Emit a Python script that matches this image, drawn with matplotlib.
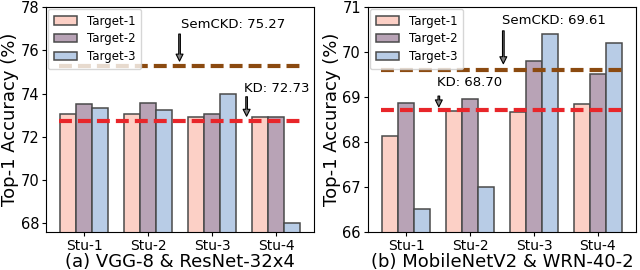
import matplotlib.pyplot as plt
import numpy as np

students = ['Stu-1', 'Stu-2', 'Stu-3', 'Stu-4']
targets = ['Target-1', 'Target-2', 'Target-3']

# (a) VGG-8 & ResNet-32x4
vgg_t1 = [73.05, 73.05, 72.91, 72.93]
vgg_t2 = [73.52, 73.55, 73.04, 72.93]
vgg_t3 = [73.32, 73.22, 73.97, 68.03]
vgg_kd = 72.73
vgg_sem = 75.27

# (b) MobileNetV2 & WRN-40-2
mob_t1 = [68.13, 68.68, 68.66, 68.84]
mob_t2 = [68.86, 68.96, 69.81, 69.50]
mob_t3 = [66.51, 66.99, 70.41, 70.19]
mob_kd = 68.70
mob_sem = 69.61

colors = ['#fcd0c6', '#b8a3b6', '#b8cce6']
w = 0.25

fig, axes = plt.subplots(1, 2, figsize=(6.4, 2.7), dpi=100)
plt.subplots_adjust(left=0.072, right=0.994, top=0.974, bottom=0.141, wspace=0.2)


def draw(ax, series, kd, sem, ylim, yticks, xlabel, sem_pos, kd_pos):
    x = np.arange(len(students))
    for i, vals in enumerate(series):
        ax.bar(x + (i - 1) * w, vals, w, color=colors[i], edgecolor='#4a4a4a',
               linewidth=1.1, label=targets[i])
    ax.hlines(sem, -0.4, 3.4, colors='#8b4a10', linestyles=(0, (3.1, 1.45)), linewidth=3)
    ax.hlines(kd, -0.4, 3.4, colors='#e8262a', linestyles=(0, (3.1, 1.45)), linewidth=3)
    arrow = dict(facecolor='gray', edgecolor='black', width=1.2, headwidth=5,
                 headlength=5, shrink=0, linewidth=0.8)
    ax.annotate('', xy=(sem_pos[0], sem_pos[2]), xytext=(sem_pos[0], sem_pos[1]),
                arrowprops=arrow)
    ax.annotate('', xy=(kd_pos[0], kd_pos[2]), xytext=(kd_pos[0], kd_pos[1]),
                arrowprops=arrow)
    ax.text(sem_pos[3], sem_pos[4], 'SemCKD: %.2f' % sem, fontsize=9.5, va='center')
    ax.text(kd_pos[3], kd_pos[4], 'KD: %.2f' % kd, fontsize=9.5, va='center')
    ax.set_xlim(-0.6, 3.6)
    ax.set_ylim(*ylim)
    ax.set_yticks(yticks)
    ax.set_xticks(x)
    ax.set_xticklabels(students, fontsize=10)
    ax.tick_params(axis='y', labelsize=10.5, length=3, pad=2)
    ax.tick_params(axis='x', length=3, pad=2)
    ax.set_ylabel('Top-1 Accuracy (%)', fontsize=13, labelpad=1)
    ax.set_xlabel(xlabel, fontsize=13, labelpad=0)
    ax.legend(loc='upper left', fontsize=8.5, borderaxespad=0.15, borderpad=0.5,
              handlelength=2.0, labelspacing=0.4)


draw(axes[0], [vgg_t1, vgg_t2, vgg_t3], vgg_kd, vgg_sem, (67.6, 78),
     [68, 70, 72, 74, 76, 78], '(a) VGG-8 & ResNet-32x4',
     (1.49, 76.75, 75.5, 1.52, 77.2), (2.54, 73.85, 72.95, 2.5, 74.25))
draw(axes[1], [mob_t1, mob_t2, mob_t3], mob_kd, mob_sem, (66, 71),
     [66, 67, 68, 69, 70, 71], '(b) MobileNetV2 & WRN-40-2',
     (1.52, 70.47, 69.74, 1.5, 70.71), (0.51, 69.02, 68.78, 0.48, 69.33))

plt.savefig('out.png')
